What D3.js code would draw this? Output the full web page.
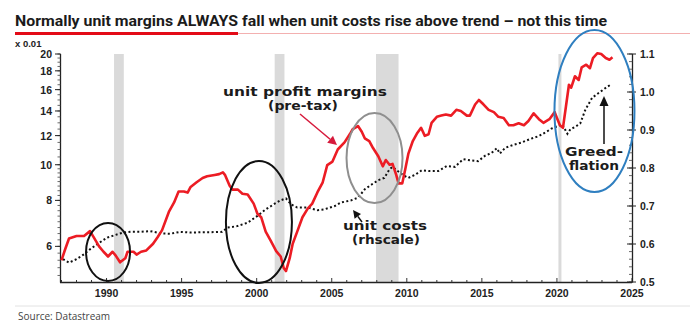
<!DOCTYPE html>
<html><head><meta charset="utf-8">
<script src="https://cdn.jsdelivr.net/npm/d3@7"></script>
<style>body{margin:0;background:#fff}svg{display:block}</style>
</head><body>
<script>
// ---- data ----
const profitYears = [1987.0,1987.25,1987.5,1987.75,1988.0,1988.5,1988.9,1989.2,1989.5,1989.8,1990.1,1990.4,1990.6,1990.9,1991.25,1991.4,1991.8,1992.0,1992.3,1992.65,1993.1,1993.4,1993.7,1994.15,1994.5,1994.8,1995.15,1995.4,1995.6,1996.0,1996.4,1996.7,1997.2,1997.5,1997.75,1997.9,1998.2,1998.4,1998.75,1999.05,1999.4,1999.8,2000.05,2000.3,2000.6,2000.95,2001.3,2001.6,2001.8,2001.95,2002.2,2002.4,2002.7,2003.05,2003.4,2003.7,2004.05,2004.4,2004.7,2005.05,2005.4,2005.85,2006.2,2006.4,2006.75,2007.0,2007.2,2007.5,2007.75,2008.1,2008.4,2008.6,2008.85,2009.05,2009.3,2009.45,2009.7,2009.9,2010.1,2010.4,2010.7,2010.95,2011.2,2011.45,2011.65,2012.0,2012.3,2012.6,2012.95,2013.3,2013.6,2014.0,2014.2,2014.55,2014.8,2015.1,2015.45,2015.8,2016.1,2016.45,2016.8,2017.1,2017.45,2017.8,2018.1,2018.45,2018.8,2019.1,2019.5,2019.85,2020.0,2020.2,2020.4,2020.6,2020.8,2020.95,2021.2,2021.45,2021.65,2021.95,2022.2,2022.4,2022.7,2022.95,2023.25,2023.5,2023.7];
const profitValues = [5.5,5.9,6.3,6.35,6.4,6.4,6.6,6.3,6.0,5.8,5.63,5.8,5.67,5.43,5.57,5.8,5.8,5.7,5.8,5.85,6.1,6.35,6.64,7.44,7.9,8.46,8.46,8.4,8.7,8.96,9.2,9.3,9.38,9.43,9.53,9.37,8.77,8.56,8.56,8.34,8.3,7.84,7.36,7.2,6.58,6.2,5.82,5.63,5.24,5.14,5.57,6.1,6.58,7.2,7.6,7.84,8.42,8.96,9.98,10.2,11.0,11.5,12.1,12.5,12.74,12.3,11.8,11.6,11.1,10.55,9.9,10.3,10.0,10.05,9.37,8.9,8.9,9.74,10.7,11.6,12.2,12.6,11.98,12.1,13.0,13.5,13.6,13.7,13.6,14.1,14.0,13.6,13.6,14.58,15.0,14.6,14.1,13.9,13.5,13.4,12.8,12.8,12.96,12.8,13.15,13.8,13.3,13.0,13.3,13.9,13.4,12.8,12.6,14.4,16.5,16.2,17.4,17.0,18.4,18.7,18.3,19.5,20.1,20.0,19.5,19.3,19.6];

const costYears = [1987.1,1987.5,1988.0,1988.5,1988.9,1989.5,1990.05,1990.6,1991.1,1991.6,1992.25,1992.9,1993.6,1994.25,1994.9,1995.6,1996.25,1996.9,1997.7,1998.05,1998.7,1999.4,2000.05,2000.6,2001.2,2001.6,2001.95,2002.3,2002.7,2003.4,2004.05,2004.5,2005.2,2005.6,2006.3,2006.75,2007.2,2007.6,2008.1,2008.5,2008.85,2009.05,2009.4,2009.7,2010.1,2010.55,2011.0,2011.45,2012.1,2012.65,2013.2,2013.75,2014.3,2014.75,2015.2,2015.65,2016.0,2016.2,2016.55,2017.1,2017.65,2018.2,2018.8,2019.2,2019.65,2020.1,2020.35,2020.7,2020.9,2021.2,2021.55,2021.9,2022.35,2022.8,2023.25,2023.6];
const costValues = [0.56,0.551,0.56,0.573,0.586,0.603,0.617,0.624,0.63,0.632,0.632,0.634,0.628,0.627,0.632,0.63,0.631,0.631,0.632,0.643,0.647,0.656,0.674,0.691,0.706,0.715,0.72,0.704,0.696,0.696,0.689,0.691,0.70,0.709,0.715,0.722,0.744,0.755,0.768,0.774,0.797,0.803,0.792,0.783,0.774,0.782,0.794,0.792,0.792,0.805,0.803,0.823,0.82,0.818,0.832,0.84,0.852,0.838,0.853,0.861,0.867,0.876,0.884,0.893,0.904,0.911,0.915,0.89,0.902,0.908,0.917,0.954,0.985,0.998,1.011,1.02];

const recessionStarts = [1990.5, 2001.2, 2007.95, 2020.1];
const recessionEnds   = [1991.15, 2001.85, 2009.45, 2020.3];

const xTickYears = [1990,1995,2000,2005,2010,2015,2020,2025];
const leftTicks  = [6,8,10,12,14,16,18,20];
const rightTicks = [0.5,0.6,0.7,0.8,0.9,1.0,1.1];

const titleText  = "Normally unit margins ALWAYS fall when unit costs rise above trend \u2013 not this time";
const sourceText = "Source: Datastream";

// ---- drawing ----
const W = 700, H = 335;
const svg = d3.select("body").append("svg").attr("width", W).attr("height", H);

const x  = d3.scaleLinear().domain([1986.9, 2025]).range([60, 632]);
const yL = d3.scaleLog().domain([4.8, 20]).range([282, 54]);
const yR = d3.scaleLinear().domain([0.5, 1.1]).range([282, 54]);

// title
svg.append("text").attr("x", 15).attr("y", 26)
  .attr("font-family", "Roboto, 'Liberation Sans', sans-serif").attr("font-weight", 700)
  .attr("font-size", 15.5).attr("fill", "#1b1b1b")
  .attr("textLength", 592).attr("lengthAdjust", "spacingAndGlyphs")
  .text(titleText);
svg.append("line").attr("x1", 238).attr("x2", 690).attr("y1", 33.5).attr("y2", 33.5)
  .attr("stroke", "#f3b0b0").attr("stroke-width", 1);
svg.append("line").attr("x1", 15).attr("x2", 238).attr("y1", 33.5).attr("y2", 33.5)
  .attr("stroke", "#e30b17").attr("stroke-width", 3);

svg.append("text").attr("x", 15).attr("y", 47)
  .attr("font-family", "'Liberation Sans', Arial, sans-serif").attr("font-weight", 700)
  .attr("font-size", 9.5).attr("fill", "#222").text("x 0.01");

// recession shading
svg.append("g").selectAll("rect").data(recessionStarts).join("rect")
  .attr("x", (d) => x(d))
  .attr("width", (d, i) => Math.max(2, x(recessionEnds[i]) - x(d)))
  .attr("y", 54).attr("height", 282 - 54)
  .attr("fill", "#dadada");

// axes
const axisFont = "'Liberation Sans', Arial, sans-serif";
// x axis
const gx = svg.append("g");
gx.append("line").attr("x1", 60).attr("x2", 632).attr("y1", 282.5).attr("y2", 282.5)
  .attr("stroke", "#222").attr("stroke-width", 1.3);
const minorYears = d3.range(1987, 2026);
gx.selectAll("line.mt").data(minorYears).join("line").attr("class", "mt")
  .attr("x1", (d) => x(d)).attr("x2", (d) => x(d))
  .attr("y1", 282.5).attr("y2", (d) => d % 5 === 0 ? 278 : 280)
  .attr("stroke", "#333").attr("stroke-width", 1);
gx.selectAll("text").data(xTickYears).join("text")
  .attr("x", (d) => x(d)).attr("y", 297).attr("text-anchor", "middle")
  .attr("font-family", axisFont).attr("font-weight", 700).attr("font-size", 10.5)
  .attr("fill", "#222").text((d) => d);

// left axis (log)
const gl = svg.append("g");
gl.append("line").attr("x1", 60.5).attr("x2", 60.5).attr("y1", 54).attr("y2", 282.5)
  .attr("stroke", "#222").attr("stroke-width", 1.3);
const leftMinor = d3.range(5, 10, 0.25).concat(d3.range(10, 20.01, 0.5));
gl.selectAll("line.mt").data(leftMinor).join("line").attr("class", "mt")
  .attr("x1", 60.5).attr("x2", 57.5).attr("y1", (d) => yL(d)).attr("y2", (d) => yL(d))
  .attr("stroke", "#444").attr("stroke-width", 0.8);
gl.selectAll("line.Mt").data(leftTicks).join("line").attr("class", "Mt")
  .attr("x1", 60.5).attr("x2", 55).attr("y1", (d) => yL(d)).attr("y2", (d) => yL(d))
  .attr("stroke", "#222").attr("stroke-width", 1);
gl.selectAll("text").data(leftTicks).join("text")
  .attr("x", 52).attr("y", (d) => yL(d) + 4).attr("text-anchor", "end")
  .attr("font-family", axisFont).attr("font-weight", 700).attr("font-size", 10.5)
  .attr("fill", "#222").text((d) => d);

// right axis (linear)
const gr = svg.append("g");
gr.append("line").attr("x1", 632.5).attr("x2", 632.5).attr("y1", 54).attr("y2", 282.5)
  .attr("stroke", "#222").attr("stroke-width", 1.3);
const rightMinor = d3.range(0.5, 1.101, 0.02);
gr.selectAll("line.mt").data(rightMinor).join("line").attr("class", "mt")
  .attr("x1", 632.5).attr("x2", 629).attr("y1", (d) => yR(d)).attr("y2", (d) => yR(d))
  .attr("stroke", "#444").attr("stroke-width", 0.8);
gr.selectAll("line.Mt").data(rightTicks).join("line").attr("class", "Mt")
  .attr("x1", 627).attr("x2", 636).attr("y1", (d) => yR(d)).attr("y2", (d) => yR(d))
  .attr("stroke", "#222").attr("stroke-width", 1);
gr.selectAll("text").data(rightTicks).join("text")
  .attr("x", 640).attr("y", (d) => yR(d) + 4).attr("text-anchor", "start")
  .attr("font-family", axisFont).attr("font-weight", 700).attr("font-size", 10.5)
  .attr("fill", "#222").text((d) => d3.format(".1f")(d));

// series
const costLine = d3.line().x((d, i) => x(costYears[i])).y((d) => yR(d));
svg.append("path").datum(costValues).attr("d", costLine)
  .attr("fill", "none").attr("stroke", "#111").attr("stroke-width", 2)
  .attr("stroke-dasharray", "2,2.4");
const profitLine = d3.line().x((d, i) => x(profitYears[i])).y((d) => yL(d));
svg.append("path").datum(profitValues).attr("d", profitLine)
  .attr("fill", "none").attr("stroke", "#ec1c24").attr("stroke-width", 2.6)
  .attr("stroke-linejoin", "round");

// annotations: ellipses (centres in data units)
const ellipses = [
  {yr: 1990.1, v: 0.579, rx: 22, ry: 29, c: "#111"},
  {yr: 2000.15, v: 0.658, rx: 33, ry: 61, c: "#111"},
  {yr: 2007.85, v: 0.826, rx: 28, ry: 45, c: "#8f8f8f"},
  {yr: 2022.5, v: 0.95, rx: 40, ry: 81, c: "#2f7fc0"}
];
svg.append("g").selectAll("ellipse").data(ellipses).join("ellipse")
  .attr("cx", (d) => x(d.yr)).attr("cy", (d) => yR(d.v))
  .attr("rx", (d) => d.rx).attr("ry", (d) => d.ry)
  .attr("fill", "none").attr("stroke", (d) => d.c).attr("stroke-width", 2);

// annotation text
const annFont = "'DejaVu Sans', Verdana, sans-serif";
const labels = [
  {t: "unit profit margins", cx: 305, y: 96, w: 164},
  {t: "(pre-tax)", cx: 303, y: 109.5, w: 70},
  {t: "unit costs", cx: 385, y: 230, w: 84},
  {t: "(rhscale)", cx: 386, y: 243.5, w: 68},
  {t: "Greed-", cx: 594, y: 156, w: 58},
  {t: "flation", cx: 594, y: 169.5, w: 50}
];
svg.append("g").selectAll("text").data(labels).join("text")
  .attr("x", (d) => d.cx - d.w / 2).attr("y", (d) => d.y)
  .attr("font-family", annFont).attr("font-weight", 700).attr("font-size", 11.5)
  .attr("fill", "#1b1b1b")
  .attr("textLength", (d) => d.w).attr("lengthAdjust", "spacingAndGlyphs")
  .text((d) => d.t);

// arrows
function arrow(x1, y1, x2, y2, color, headLen, headW) {
  const a = Math.atan2(y2 - y1, x2 - x1);
  const bx = x2 - headLen * Math.cos(a), by = y2 - headLen * Math.sin(a);
  svg.append("line").attr("x1", x1).attr("y1", y1).attr("x2", bx).attr("y2", by)
    .attr("stroke", color).attr("stroke-width", 1.5);
  const px = -Math.sin(a) * headW / 2, py = Math.cos(a) * headW / 2;
  svg.append("polygon")
    .attr("points", [[x2, y2], [bx + px, by + py], [bx - px, by - py]].map((p) => p.join(",")).join(" "))
    .attr("fill", color);
}
arrow(300, 114, 337, 145, "#d61a3c", 9, 9);
arrow(362, 222, 353, 210, "#111", 8, 8);
arrow(604, 144, 604, 96, "#111", 10, 9);

// source
svg.append("line").attr("x1", 15).attr("x2", 690).attr("y1", 306).attr("y2", 306)
  .attr("stroke", "#e2e2e2").attr("stroke-width", 1);
svg.append("text").attr("x", 18).attr("y", 320)
  .attr("font-family", "'Open Sans', 'Noto Sans', sans-serif").attr("font-size", 10)
  .attr("fill", "#444").text(sourceText);
</script>
</body></html>
